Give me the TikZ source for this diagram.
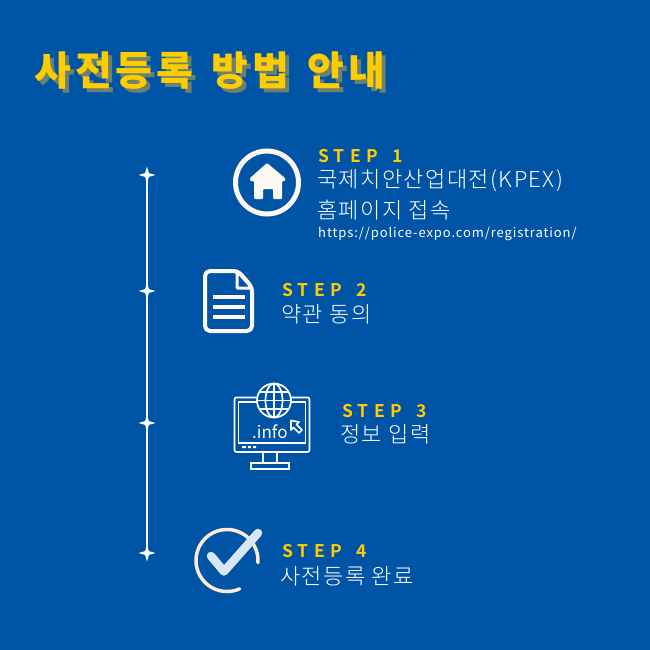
\documentclass[tikz,border=0pt]{standalone}
\usepackage{fontspec}
\usetikzlibrary{shapes.geometric}
\newfontfamily\titlefont{Noto Sans CJK KR Black}[LetterSpace=10,WordSpace=1.4]
\newfontfamily\stepfont{Noto Sans CJK KR Bold}[LetterSpace=30,WordSpace=1.6]
\newfontfamily\bodyfont{Noto Sans CJK KR Light}[LetterSpace=6.5]
\newfontfamily\urlfont{Noto Sans CJK KR}[LetterSpace=7]
\newfontfamily\infofont{Noto Sans CJK KR}
\definecolor{bgblue}{HTML}{0054A5}
\definecolor{stepyellow}{HTML}{FFCC00}
\definecolor{shadowgray}{HTML}{6D8170}
\definecolor{iconwhite}{HTML}{FDF8F2}
\definecolor{ringcream}{HTML}{FAEBDA}
\definecolor{tickblue}{HTML}{D9E6F8}
\tikzset{
	sparkle/.style={star,star points=4,star point ratio=3.2,fill=white,inner sep=0pt,minimum size=17pt},
	txt/.style={anchor=base west,inner sep=0pt,text=white},
	steplabel/.style={txt,text=stepyellow,font=\stepfont\fontsize{17.5}{17.5}\selectfont},
	bodylabel/.style={txt,font=\bodyfont\fontsize{22}{22}\selectfont},
	titlelabel/.style={txt,font=\titlefont\fontsize{40}{40}\selectfont},
	monitorline/.style={white,line width=1.7pt},
}
\begin{document}
\begin{tikzpicture}[x=1pt,y=-1pt]
	\fill[bgblue] (0,0) rectangle (650,650);
	\useasboundingbox (0,0) rectangle (650,650);
	% title
	\node[titlelabel,text=shadowgray] (titleshadow) at (38,90) {사전등록 방법 안내};
	\node[titlelabel,text=stepyellow] (title) at (34,86) {사전등록 방법 안내};
	% timeline
	\node[sparkle] (s1) at (147,175) {};
	\node[sparkle] (s2) at (147,291) {};
	\node[sparkle] (s3) at (147,423) {};
	\node[sparkle] (s4) at (147,553) {};
	\draw[white,line width=2.5pt] (s1.center) -- (s2.center);
	\draw[white,line width=2.5pt] (s2.center) -- (s3.center);
	\draw[white,line width=2.5pt] (s3.center) -- (s4.center);
	% step 1
	\draw[iconwhite,line width=5pt] (267,182.5) circle(31.5);
	\fill[iconwhite,rounded corners=1pt] (267,163) -- (285,178) -- (285,181) -- (282,181) -- (282,199) -- (273,199) -- (273,189) -- (263,189) -- (263,199) -- (254,199) -- (254,181) -- (250,181) -- (250,178) -- cycle;
	\node[steplabel] (step1) at (318,162) {STEP 1};
	\node[bodylabel] (body1a) at (317,187) {국제치안산업대전(KPEX)};
	\node[bodylabel] (body1b) at (317,218) {홈페이지 접속};
	\node[txt,font=\urlfont\fontsize{13}{13}\selectfont] (url) at (318,237) {https://police-expo.com/registration/};
	% step 2
	\draw[iconwhite,line width=4pt,line join=round,rounded corners=5pt] (220,271) -- (238,271) -- (252,287) -- (252,331) -- (205,331) -- (205,271) -- cycle;
	\draw[iconwhite,line width=3pt,line join=round,fill=bgblue] (237,271) -- (237,288) -- (252,288) -- cycle;
	\foreach \y in {297,307,317}
		\draw[iconwhite,line width=4.5pt] (213,\y) -- (245,\y);
	\node[steplabel] (step2) at (282,296) {STEP 2};
	\node[bodylabel] (body2) at (281,322) {약관 동의};
	% step 3
	\draw[monitorline,rounded corners=2pt] (234.5,397.5) rectangle (309.5,452);
	\draw[monitorline] (238.5,402) rectangle (305.5,443);
	\fill[white] (242,446) rectangle (246,448.2) (248,446) rectangle (251,448.2) (253,446) rectangle (256,448.2);
	\draw[monitorline] (263,452) -- (263,463) (277,452) -- (277,463);
	\draw[monitorline] (251,463) rectangle (289,469);
	\draw[monitorline,fill=bgblue] (274,400.5) circle(17);
	\draw[monitorline] (257,400.5) -- (291,400.5) (274,383.5) -- (274,417.5);
	\draw[monitorline] (274,400.5) ellipse(8.5 and 17);
	\draw[monitorline] (259.5,392) -- (288.5,392) (259.5,409) -- (288.5,409);
	\node[txt,font=\infofont\fontsize{17}{17}\selectfont] (info) at (252,438) {.info};
	\draw[monitorline,line join=round,fill=bgblue] (291,420.5) -- (291,430) -- (293.5,427.5) -- (299,433) -- (302,430) -- (296.5,424.5) -- (299,422) -- cycle;
	\node[steplabel] (step3) at (342,417) {STEP 3};
	\node[bodylabel] (body3) at (340,442) {정보 입력};
	% step 4
	\draw[ringcream,line width=3.5pt,line cap=round] (66:31) ++(227,560.5) arc(66:364:31);
	\draw[tickblue,line width=8.5pt,line cap=round,line join=round] (211,556) -- (224,571.5) -- (258,533);
	\node[steplabel] (step4) at (282,557) {STEP 4};
	\node[bodylabel] (body4) at (280,584) {사전등록 완료};
\end{tikzpicture}
\end{document}
